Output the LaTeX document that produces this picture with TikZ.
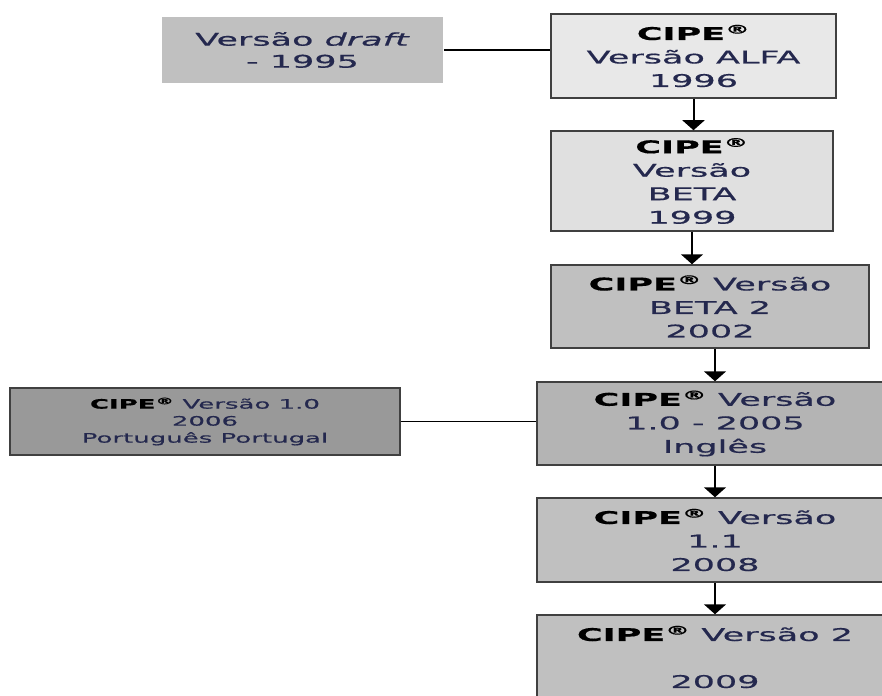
\documentclass[tikz,border=0pt]{standalone}
\usepackage{fontspec}
\setmainfont{DejaVu Sans}[FakeStretch=2.0,FakeBold=0.6]
\usetikzlibrary{arrows.meta}

\definecolor{texto}{RGB}{36,40,78}
\definecolor{cinzaclaro}{RGB}{232,232,232}
\definecolor{cinzabeta}{RGB}{224,224,224}
\definecolor{cinzamedio}{RGB}{192,192,192}
\definecolor{cinzaum}{RGB}{180,180,180}
\definecolor{cinzaescuro}{RGB}{153,153,153}

\newcommand{\cipe}{\textbf{\color{black}CIPE\textsuperscript{\textregistered}}}

\begin{document}
\begin{tikzpicture}[x=1pt,y=-1pt,
    caixa/.style={draw=black!75,line width=1.5pt,inner sep=0pt,align=center,
      text=texto,font=\fontsize{17.5}{23.5}\selectfont},
    seta/.style={-{Triangle[width=22pt,length=10pt]},line width=2pt},
    liga/.style={line width=1.2pt}]
            \useasboundingbox (0,0) rectangle (882,695);

            \node[caixa,draw=none,fill=cinzamedio,minimum width=281,minimum height=66,
              font=\fontsize{17.5}{22}\selectfont] (draft) at (302.5,50)
              {Versão \textit{draft}\\- 1995};
            \node[caixa,fill=cinzaclaro,minimum width=285,minimum height=84] (alfa) at (693.5,56)
              {\cipe\\Versão ALFA\\1996};
            \node[caixa,fill=cinzabeta,minimum width=282,minimum height=100] (beta) at (692,181)
              {\cipe\\Versão\\BETA\\1999};
            \node[caixa,fill=cinzamedio,minimum width=318,minimum height=83] (betadois) at (710,306.5)
              {\cipe{} Versão\\BETA 2\\2002};
            \node[caixa,fill=cinzaum,minimum width=356,minimum height=83] (um) at (715,423.5)
              {\cipe{} Versão\\1.0 - 2005\\Inglês};
            \node[caixa,fill=cinzamedio,minimum width=356,minimum height=84] (umum) at (715,540)
              {\cipe{} Versão\\1.1\\2008};
            \node[caixa,fill=cinzamedio,minimum width=356,minimum height=84] (dois) at (715,657)
              {\cipe{} Versão 2\\[23.5pt]2009};

            \node[caixa,fill=cinzaescuro,minimum width=390,minimum height=67,
              font=\fontsize{13}{17}\selectfont] (portugal) at (205,421.5)
              {\cipe{} Versão 1.0\\2006\\Português Portugal};

            \draw[liga] (draft.east) -- (draft.east -| alfa.west);
            \draw[liga] (portugal.east) -- (portugal.east -| um.west);

            \draw[seta] (alfa.south) -- (alfa.south |- beta.north);
            \draw[seta] (beta.south) -- (beta.south |- betadois.north);
            \draw[seta] (um.north |- betadois.south) -- (um.north);
            \draw[seta] (um.south) -- (umum.north);
            \draw[seta] (umum.south) -- (dois.north);
        \end{tikzpicture}
\end{document}
